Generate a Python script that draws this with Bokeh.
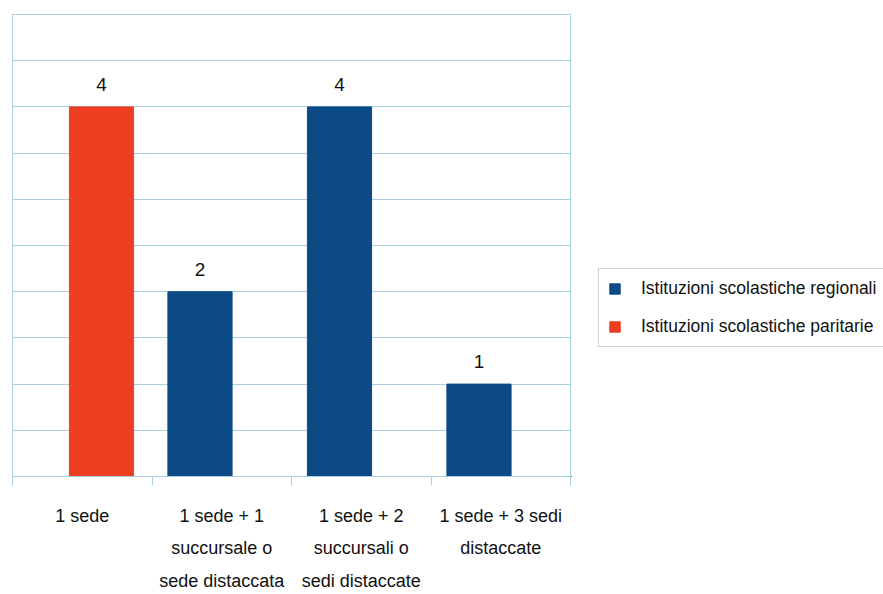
from bokeh.plotting import figure
from bokeh.layouts import row
from bokeh.models import Range1d, FixedTicker, Legend, LegendItem, ColumnDataSource
from bokeh.core.properties import value
from bokeh.transform import dodge
from bokeh.embed import file_html
from bokeh.resources import INLINE

# Number of schools by how many sites they have
categories = [
    "1 sede",
    "1 sede + 1\nsuccursale o\nsede distaccata",
    "1 sede + 2\nsuccursali o\nsedi distaccate",
    "1 sede + 3 sedi\ndistaccate",
]
regionali = [0, 2, 4, 1]
paritarie = [4, 0, 0, 0]
series_names = ["Istituzioni scolastiche regionali", "Istituzioni scolastiche paritarie"]
colors = ["#0b4a85", "#ee3e22"]
y_max = 5

FONT = "Liberation Sans"
GRID = "#a9d0e2"
TEXT = "#111111"

n = len(categories)
centers = [i + 0.5 for i in range(n)]
source = ColumnDataSource(dict(x=centers, regionali=regionali, paritarie=paritarie))

# ---- chart ----
p = figure(
    width=571, height=594,
    x_range=Range1d(0, n), y_range=Range1d(0, y_max),
    output_backend="svg", toolbar_location=None,
    min_border_left=12, min_border_top=14, min_border_right=1, min_border_bottom=118,
)
p.background_fill_color = "white"
p.border_fill_color = "white"
p.outline_line_color = GRID

OFF_REG = -0.156
OFF_PAR = 0.138
W = 0.46
p.vbar(x=dodge("x", OFF_REG, range=p.x_range), top="regionali", width=W, source=source,
       fill_color=colors[0], line_color=colors[0])
p.vbar(x=dodge("x", OFF_PAR, range=p.x_range), top="paritarie", width=W, source=source,
       fill_color=colors[1], line_color=colors[1])

# value labels above non-empty bars
lx, ly, lt = [], [], []
for c, a, b in zip(centers, regionali, paritarie):
    if a:
        lx.append(c + OFF_REG); ly.append(a); lt.append(str(a))
    if b:
        lx.append(c + OFF_PAR); ly.append(b); lt.append(str(b))
p.text(x=lx, y=ly, text=lt, text_align="center", text_baseline="bottom", y_offset=-16,
       text_font=value(FONT), text_font_size="19px", text_color=TEXT)

# y axis hidden; gridlines every 0.5
p.yaxis.visible = False
p.ygrid.ticker = FixedTicker(ticks=[i * 0.5 for i in range(2 * y_max + 1)])
p.ygrid.grid_line_color = GRID
p.xgrid.grid_line_color = None

# x axis: labels at category centres, ticks at category boundaries
p.xaxis.ticker = FixedTicker(ticks=centers, minor_ticks=list(range(n + 1)))
p.xaxis.major_label_overrides = {c: lab for c, lab in zip(centers, categories)}
p.xaxis.major_tick_out = 0
p.xaxis.major_tick_in = 0
p.xaxis.minor_tick_out = 9
p.xaxis.minor_tick_in = 0
p.xaxis.minor_tick_line_color = GRID
p.xaxis.axis_line_color = GRID
p.xaxis.major_label_standoff = 20
p.xaxis.major_label_text_font = FONT
p.xaxis.major_label_text_font_size = "18px"
p.xaxis.major_label_text_color = TEXT
p.xaxis.major_label_text_line_height = 1.64

# ---- legend panel ----
q = figure(
    width=312, height=594, x_range=Range1d(100, 101), y_range=Range1d(100, 101),
    output_backend="svg", toolbar_location=None,
    min_border_left=0, min_border_right=0, min_border_top=0, min_border_bottom=0,
)
q.axis.visible = False
q.grid.grid_line_color = None
q.outline_line_color = None
q.background_fill_color = "white"
q.border_fill_color = "white"

# the same series, outside this panel's visible range: only their legend swatches show
items = []
for name, col, field in zip(series_names, colors, ["regionali", "paritarie"]):
    r = q.vbar(x="x", top=field, width=W, source=source, fill_color=col, line_color=col)
    items.append(LegendItem(label=name, renderers=[r]))

legend = Legend(
    items=items,
    location=(27, 129),
    label_text_font=FONT, label_text_font_size="17.5px", label_text_color=TEXT,
    glyph_width=13, glyph_height=13, label_height=20, spacing=17, padding=9,
    label_standoff=20, margin=0,
    border_line_color="#8fb0c6", background_fill_color="white", background_fill_alpha=1,
)
q.add_layout(legend)

layout = row(p, q)
open("out.html", "w").write(file_html(layout, INLINE))
